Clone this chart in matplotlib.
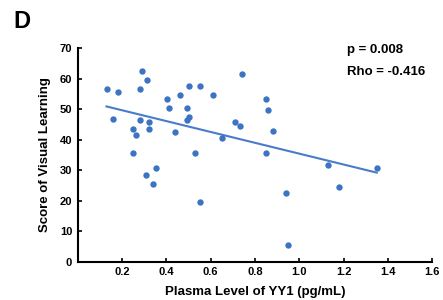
import matplotlib

matplotlib.use("Agg")

import matplotlib.pyplot as plt

POINT_BLUE = "#3C74C2"
LINE_BLUE = "#4A7BC9"

# Plasma YY1 (pg/mL) vs. visual learning score.
yy1 = [0.131, 0.181, 0.161, 0.290, 0.311, 0.281, 0.281, 0.251, 0.262, 0.320,
       0.320, 0.251, 0.352, 0.402, 0.411, 0.460, 0.501, 0.551, 0.492, 0.501,
       0.492, 0.441, 0.531, 0.609, 0.740, 0.710, 0.731, 0.651, 0.310, 0.341,
       0.551, 0.849, 0.861, 0.880, 0.849, 1.129, 1.350, 1.181, 0.940, 0.951]
score = [56.5, 55.5, 46.7, 62.5, 59.5, 56.5, 46.6, 43.6, 41.5, 45.7,
         43.6, 35.5, 30.7, 53.4, 50.5, 54.6, 57.6, 57.6, 50.5, 47.5,
         46.6, 42.5, 35.5, 54.6, 61.5, 45.7, 44.6, 40.7, 28.5, 25.6,
         19.6, 53.4, 49.6, 42.8, 35.5, 31.6, 30.7, 24.6, 22.6, 5.6]

# Fitted line ends as drawn in the figure.
fit_x = [0.13, 1.35]
fit_y = [50.9, 29.2]

x_ticks = [0.2, 0.4, 0.6, 0.8, 1.0, 1.2, 1.4, 1.6]
y_ticks = [0, 10, 20, 30, 40, 50, 60, 70]

plt.rcParams["font.family"] = ["Liberation Sans", "DejaVu Sans"]
plt.rcParams["font.weight"] = "bold"

fig = plt.figure(figsize=(4.43, 3.0), dpi=100)
fig.patch.set_facecolor("white")
ax = fig.add_axes([0.1754, 0.1277, 0.80, 0.7117])

ax.plot(fit_x, fit_y, color=LINE_BLUE, linewidth=1.5, zorder=2)
ax.scatter(yy1, score, s=21, color=POINT_BLUE, linewidths=0, zorder=3)

ax.set_xlim(0, 1.6)
ax.set_ylim(0, 70)
ax.set_xticks(x_ticks)
ax.set_xticklabels([f"{v:.1f}" for v in x_ticks])
ax.set_yticks(y_ticks)
ax.tick_params(direction="in", length=3, width=1.2, labelsize=8, pad=4)

for side in ("top", "right"):
    ax.spines[side].set_visible(False)
for side in ("left", "bottom"):
    ax.spines[side].set_linewidth(1.5)

ax.set_xlabel("Plasma Level of YY1 (pg/mL)", fontsize=9.5, fontweight="bold", labelpad=6)
ax.set_ylabel("Score of Visual Learning", fontsize=9.5, fontweight="bold", labelpad=6)

fig.text(0.783, 0.833, "p = 0.008", fontsize=9.5, fontweight="bold", va="center")
fig.text(0.783, 0.759, "Rho = -0.416", fontsize=9.5, fontweight="bold", va="center")
fig.text(0.03, 0.927, "D", fontsize=17, fontweight="bold", va="center")

fig.savefig("out.png", dpi=100)
